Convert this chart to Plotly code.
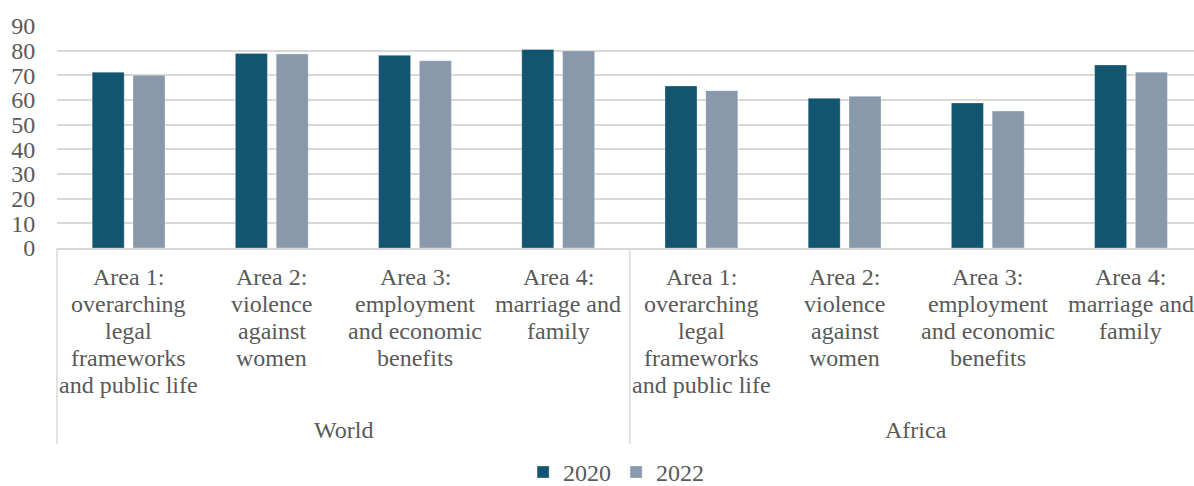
import plotly.graph_objects as go

# Scores by area of law, 2020 vs 2022, for the world and for Africa
groups = ["World", "Africa"]
area_labels = [
    ["Area 1:", "overarching", "legal", "frameworks", "and public life"],
    ["Area 2:", "violence", "against", "women"],
    ["Area 3:", "employment", "and economic", "benefits"],
    ["Area 4:", "marriage and", "family"],
]
years = ["2020", "2022"]
values_2020 = [71.3, 78.9, 78.1, 80.5, 65.7, 60.7, 58.8, 74.2]
values_2022 = [70.0, 78.6, 75.9, 79.9, 63.8, 61.5, 55.5, 71.3]

colors = {"2020": "#135571", "2022": "#8799AB"}
text_color = "#595959"
grid_color = "#d9d9d9"
font_family = "Times New Roman, serif"
font_size = 24
line_step = 27  # px between wrapped label lines

n_areas = len(area_labels)
positions = list(range(len(groups) * n_areas))

fig = go.Figure()
for yr, vals in zip(years, [values_2020, values_2022]):
    fig.add_trace(go.Bar(
        x=positions, y=vals, name=yr,
        marker=dict(color=colors[yr], line=dict(color="rgba(255,255,255,0.35)", width=0.8)),
    ))

fig.update_layout(
    width=1194, height=486,
    margin=dict(l=57, r=0, t=26, b=238, autoexpand=False),
    paper_bgcolor="white", plot_bgcolor="white",
    barmode="group", bargap=0.43, bargroupgap=0.216,
    font=dict(family=font_family, size=font_size, color=text_color),
    showlegend=True,
    legend=dict(orientation="h", xref="container", x=0.516, xanchor="center",
                yref="container", y=0.028, yanchor="middle",
                font=dict(size=font_size, color=text_color, family=font_family),
                itemwidth=30, traceorder="normal", tracegroupgap=0),
)

fig.update_xaxes(
    range=[-0.5, 7.44], automargin=False,
    tickvals=positions, showticklabels=False, ticks="",
    showgrid=False, zeroline=False,
    showline=True, linecolor=grid_color, linewidth=1.5,
)
fig.update_yaxes(
    range=[0, 90], dtick=10, automargin=False,
    showgrid=True, gridcolor=grid_color, gridwidth=1.5,
    zeroline=False, showline=False,
    ticks="outside", ticklen=0, ticklabelstandoff=16,
    tickfont=dict(size=font_size, color=text_color, family=font_family),
)

# wrapped category labels, one text line at a time under each category
for gi in range(len(groups)):
    for ai, lines in enumerate(area_labels):
        cx = positions[gi * n_areas + ai]
        for li, line in enumerate(lines):
            fig.add_annotation(
                x=cx, xref="x", y=0, yref="paper", yshift=-(29 + line_step * li),
                text=line, showarrow=False, xanchor="center", yanchor="middle",
                font=dict(size=font_size, color=text_color, family=font_family),
            )

# group labels centred under each group of areas
for gi, g in enumerate(groups):
    cx = gi * n_areas + (n_areas - 1) / 2
    fig.add_annotation(x=cx, xref="x", y=0, yref="paper", yshift=-182, text=g,
                       showarrow=False, xanchor="center", yanchor="middle",
                       font=dict(size=font_size, color=text_color, family=font_family))

# vertical separators of the category axis
fig.add_shape(type="line", xref="paper", yref="paper", x0=0, x1=0, y0=0, y1=-0.883,
              line=dict(color=grid_color, width=1.5))
for gi in range(1, len(groups)):
    sep = gi * n_areas - 0.5
    fig.add_shape(type="line", xref="x", yref="paper", x0=sep, x1=sep, y0=0, y1=-0.883,
                  line=dict(color=grid_color, width=1.5))

fig.write_html("out.html")
